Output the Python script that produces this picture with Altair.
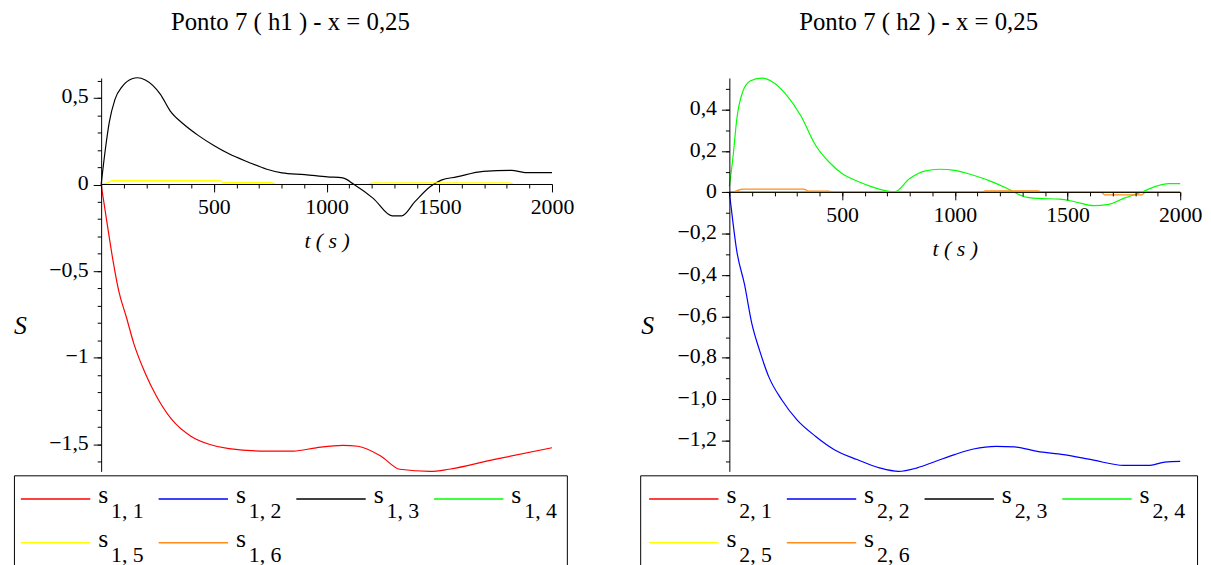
import math
import altair as alt
import pandas as pd

FONT = "Liberation Serif"

# ---------------- data ----------------
KEYS = ["1", "2", "3", "4", "5", "6"]
COLORS = ["#ff0000", "#0000ff", "#000000", "#00ff00", "#ffff00", "#ff8c1a"]

T_RANGE = [0, 2000]

# left panel: Ponto 7 (h1)
L_TITLE = "Ponto 7 ( h1 ) - x = 0,25"
L_SUBS = ["1, 1", "1, 2", "1, 3", "1, 4", "1, 5", "1, 6"]

L1_T = [0, 20, 53, 78, 112, 145, 196, 246, 314, 398, 482, 567, 735, 853, 954, 1072,
        1139, 1240, 1325, 1459, 1543, 1745, 2000]
L1_V = [0.0, -0.17, -0.442, -0.614, -0.766, -0.918, -1.09, -1.223, -1.357, -1.452, -1.5,
        -1.524, -1.538, -1.538, -1.519, -1.505, -1.51, -1.566, -1.643, -1.655, -1.643,
        -1.586, -1.519]
L2_T = [0, 2000]
L2_V = [0.0, 0.0]
L3_T = [0, 19, 36, 61, 95, 137, 162, 196, 263, 306, 365, 432, 500, 567, 651, 735, 802,
        903, 1004, 1072, 1122, 1207, 1291, 1333, 1392, 1459, 1509, 1577, 1695, 1821,
        1880, 2000]
L3_V = [0.0, 0.206, 0.358, 0.49, 0.568, 0.61, 0.616, 0.603, 0.52, 0.425, 0.349, 0.282,
        0.225, 0.177, 0.13, 0.088, 0.067, 0.057, 0.044, 0.038, 0.0, -0.08, -0.181,
        -0.181, -0.099, -0.013, 0.025, 0.044, 0.076, 0.082, 0.069, 0.069]
L4_T = [0, 2000]
L4_V = [0.0, 0.0]
L5_T = [0, 30, 50, 525, 545, 755, 775, 1185, 1205, 1810, 1830, 2000]
L5_V = [0.0, 0.011, 0.022, 0.022, 0.011, 0.011, 0.0, 0.0, 0.01, 0.01, 0.0, 0.0]
L6_T = [0, 2000]
L6_V = [0.0, 0.0]

# right panel: Ponto 7 (h2)
R_TITLE = "Ponto 7 ( h2 ) - x = 0,25"
R_SUBS = ["2, 1", "2, 2", "2, 3", "2, 4", "2, 5", "2, 6"]

R1_T = [0, 2000]
R1_V = [0.0, 0.0]
R2_T = [0, 5, 33, 67, 100, 134, 175, 233, 300, 383, 466, 566, 666, 750, 833, 916, 999,
        1083, 1183, 1266, 1366, 1483, 1616, 1749, 1866, 1932, 2000]
R2_V = [0.0, -0.045, -0.284, -0.444, -0.636, -0.764, -0.892, -1.004, -1.1, -1.18,
        -1.244, -1.292, -1.332, -1.349, -1.332, -1.30, -1.268, -1.241, -1.228, -1.231,
        -1.252, -1.268, -1.295, -1.32, -1.32, -1.304, -1.301]
R3_T = [0, 2000]
R3_V = [0.0, 0.0]
R4_T = [0, 17, 33, 58, 92, 142, 192, 250, 317, 383, 442, 500, 566, 633, 700, 733, 800,
        866, 933, 999, 1083, 1166, 1233, 1299, 1366, 1466, 1532, 1616, 1683, 1749, 1832,
        1899, 1949, 2000]
R4_V = [0.03, 0.18, 0.355, 0.483, 0.539, 0.553, 0.534, 0.475, 0.371, 0.227, 0.147,
        0.091, 0.055, 0.027, 0.007, 0.003, 0.067, 0.103, 0.112, 0.107, 0.083, 0.051,
        0.019, -0.017, -0.029, -0.032, -0.045, -0.064, -0.058, -0.029, 0.003, 0.032,
        0.043, 0.043]
R5_T = [0, 2000]
R5_V = [0.0, 0.0]
R6_T = [0, 30, 60, 330, 350, 440, 460, 1120, 1135, 1370, 1385, 1650, 1665, 1830, 1845, 2000]
R6_V = [0.0, 0.007, 0.016, 0.016, 0.007, 0.007, 0.0, 0.0, 0.008, 0.008, 0.0, 0.0,
        -0.012, -0.012, 0.0, 0.0]

# tick positions (major = labelled, minor = small ticks)
X_MAJOR = [500, 1000, 1500, 2000]
X_MINOR = list(range(0, 2001, 100))
L_Y_MAJOR = [-1.5, -1.0, -0.5, 0.0, 0.5]
L_Y_MINOR = [round(-1.6 + 0.1 * i, 1) for i in range(23)]
R_Y_MAJOR = [-1.2, -1.0, -0.8, -0.6, -0.4, -0.2, 0.0, 0.2, 0.4]
R_Y_MINOR = [round(-1.3 + 0.1 * i, 1) for i in range(19)]

# ---------------- layout ----------------
H = 397                 # plot height
PX_PER_T = 455 / 2000   # horizontal scale
LEG_H = 100
COL_STEP = 139

AX_COMMON = dict(grid=False, zindex=1, labelFlush=False, labelOverlap=False, labelBound=False,
                 labelFont=FONT, labelFontSize=22, labelColor="black",
                 tickColor="black", tickWidth=1, domainColor="black", domainWidth=1)


def long_df(ts, vs):
    rows = []
    for k, t, v in zip(KEYS, ts, vs):
        for a, b in zip(t, v):
            rows.append({"key": k, "t": a, "v": b})
    return pd.DataFrame(rows)


def panel(title, subs, ts, vs, W, t0, y_major, y_minor, label_expr, ytitle_x, leg_x0):
    df = long_df(ts, vs)
    xmin = -t0 / PX_PER_T
    xmax = (W - t0) / PX_PER_T
    ymin = float(df["v"].min())
    ymax_raw = float(df["v"].max())
    y0 = H * ymax_raw / (ymax_raw - ymin)
    y0 = math.floor(y0) + 0.5
    ymax = y0 * ymin / (y0 - H)
    x_off = (y0 - 0.5) - H

    xscale = alt.Scale(domain=[xmin, xmax], nice=False, zero=False)
    yscale = alt.Scale(domain=[ymin, ymax], nice=False, zero=False)
    color = alt.Color("key:N", scale=alt.Scale(domain=KEYS, range=COLORS), legend=None)

    x_major = alt.Axis(
        values=X_MAJOR, format="d", tickSize=8, domain=False, offset=x_off, orient="bottom",
        labelPadding=5,
        title="t ( s )", titleFont=FONT, titleFontStyle="italic", titleFontSize=22,
        titleFontWeight="normal", titleX=t0 + 1000 * PX_PER_T, titleY=57,
        titleAlign="center", titleBaseline="middle", titleColor="black", **AX_COMMON,
    )
    y_major_ax = alt.Axis(
        values=y_major, labelExpr=label_expr, tickSize=8, domain=True, offset=-t0,
        orient="left", labelPadding=5, labelOffset=-2,
        title="S", titleFont=FONT, titleFontStyle="italic", titleFontSize=26,
        titleFontWeight="normal", titleAngle=0, titleX=ytitle_x, titleY=250,
        titleAlign="center", titleBaseline="middle", titleColor="black", **AX_COMMON,
    )
    x_minor = alt.Axis(values=X_MINOR, labels=False, tickSize=4, domain=False, offset=x_off,
                       orient="bottom", title="", **AX_COMMON)
    y_minor_ax = alt.Axis(values=y_minor, labels=False, tickSize=4, domain=False, offset=-t0,
                          orient="left", title="", **AX_COMMON)

    lines = alt.Chart(df).mark_line(strokeWidth=1.2, interpolate="monotone").encode(
        x=alt.X("t:Q", scale=xscale, axis=x_major),
        y=alt.Y("v:Q", scale=yscale, axis=y_major_ax),
        color=color,
        detail="key:N",
    )
    axis_line = alt.Chart(pd.DataFrame({"t": [T_RANGE[0]], "t2": [T_RANGE[1]], "v": [0.0]})).mark_rule(
        color="black", strokeWidth=1
    ).encode(
        x=alt.X("t:Q", scale=xscale, axis=x_minor),
        x2="t2:Q",
        y=alt.Y("v:Q", scale=yscale, axis=y_minor_ax),
    )

    plot = alt.layer(lines, axis_line).resolve_axis(x="independent", y="independent").properties(
        width=W, height=H,
        title=alt.Title(title, font=FONT, fontSize=25, fontWeight="normal", anchor="middle",
                        frame="group", offset=21, baseline="alphabetic", color="black"),
    )

    leg_df = pd.DataFrame({
        "key": KEYS, "sub": subs,
        "col": [i % 4 for i in range(len(KEYS))],
        "row": [i // 4 for i in range(len(KEYS))],
    })
    lx = alt.X("col:Q", scale=alt.Scale(domain=[0, 4], range=[leg_x0, leg_x0 + 4 * COL_STEP]), axis=None)
    ly = alt.Y("row:Q", scale=alt.Scale(domain=[0, 1], range=[24, 68]), axis=None)
    base = alt.Chart(leg_df)
    sym = base.mark_rule(strokeWidth=1.5, x2Offset=70).encode(x=lx, x2="col:Q", y=ly, color=color)
    s_txt = base.mark_text(text="s", align="left", baseline="alphabetic", dx=78, dy=4,
                           font=FONT, fontSize=26, color="black").encode(x=lx, y=ly)
    sub_txt = base.mark_text(align="left", baseline="alphabetic", dx=91, dy=19,
                             font=FONT, fontSize=22, color="black").encode(x=lx, y=ly, text="sub:N")
    legend = alt.layer(sym, s_txt, sub_txt).properties(
        width=W, height=LEG_H, view=alt.ViewBackground(stroke="black", strokeWidth=1)
    )
    return alt.vconcat(plot, legend, spacing=0).resolve_scale(x="independent", y="independent")


L_LABEL = "replace(format(datum.value, '.1~f'), '.', ',')"
R_LABEL = "abs(datum.value) < 0.001 ? '0' : replace(format(datum.value, '.1f'), '.', ',')"

left = panel(L_TITLE, L_SUBS,
             [L1_T, L2_T, L3_T, L4_T, L5_T, L6_T], [L1_V, L2_V, L3_V, L4_V, L5_V, L6_V],
             W=558, t0=88, y_major=L_Y_MAJOR, y_minor=L_Y_MINOR, label_expr=L_LABEL,
             ytitle_x=-82, leg_x0=7)
right = panel(R_TITLE, R_SUBS,
              [R1_T, R2_T, R3_T, R4_T, R5_T, R6_T], [R1_V, R2_V, R3_V, R4_V, R5_V, R6_V],
              W=562, t0=90, y_major=R_Y_MAJOR, y_minor=R_Y_MINOR, label_expr=R_LABEL,
              ytitle_x=-83, leg_x0=9)

chart = alt.hconcat(left, right, spacing=65).properties(
    padding={"left": 5, "top": -2, "right": 0, "bottom": 0},
    background="white",
).configure_view(stroke="transparent")

chart.save("out.html", embed_options={"renderer": "svg", "actions": False})
